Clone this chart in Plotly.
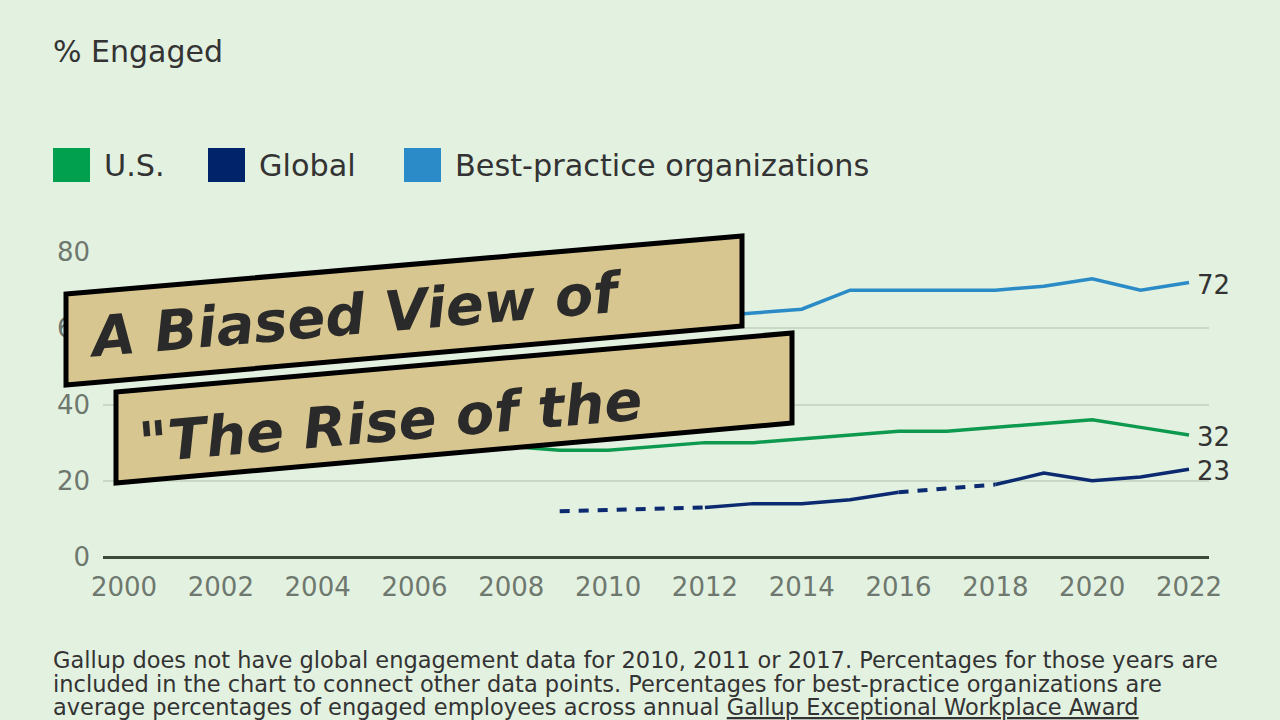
import plotly.graph_objects as go

# ---------------- data ----------------
years = list(range(2000, 2023))
us = [26, 26, 30, 28, 29, 28, 29, 30, 29, 28, 28, 29, 30, 30, 31, 32, 33, 33, 34, 35, 36, 34, 32]
global_years = list(range(2009, 2023))
global_vals = [12, 12.4, 12.7, 13, 14, 14, 15, 17, 18, 19, 22, 20, 21, 23]
global_missing = [2010, 2011, 2017]
best_years = list(range(2009, 2023))
best_vals = [60, 62, 63, 63, 64, 65, 70, 70, 70, 70, 71, 73, 70, 72]

x_ticks = list(range(2000, 2023, 2))
y_ticks = [0, 20, 40, 60, 80]

series_names = ["U.S.", "Global", "Best-practice organizations"]
series_colors = ["#0E9A4E", "#0B2A6F", "#2B8BC6"]
legend_square_colors = ["#00A04F", "#002369", "#2A8BC8"]

title_text = "% Engaged"
banner_lines = ["A Biased View of", "\"The Rise of the"]
footnote_lines = [
    "Gallup does not have global engagement data for 2010, 2011 or 2017. Percentages for those years are",
    "included in the chart to connect other data points. Percentages for best-practice organizations are",
    "average percentages of engaged employees across annual <u>Gallup Exceptional Workplace Award</u>",
]

# ---------------- layout geometry ----------------
W, H = 1280, 720
L, R, T, B = 103, 71, 252, 163
PW, PH = W - L - R, H - T - B
BG = "#E3F1E1"
FONT = "DejaVu Sans"
TEXT = "#333333"
TICK = "#6E786E"


def px(x, y):
    return (x - L) / PW, (H - B - y) / PH


fig = go.Figure()

# Best-practice
fig.add_trace(go.Scatter(x=best_years, y=best_vals, mode="lines",
                         line=dict(color=series_colors[2], width=3.5),
                         name=series_names[2], showlegend=False))
# U.S.
fig.add_trace(go.Scatter(x=years, y=us, mode="lines",
                         line=dict(color=series_colors[0], width=3.5),
                         name=series_names[0], showlegend=False))
# Global solid / dashed
solid = [v if y not in global_missing else None for y, v in zip(global_years, global_vals)]
dashed = [v if (y in global_missing or (y - 1) in global_missing or (y + 1) in global_missing) else None
          for y, v in zip(global_years, global_vals)]
fig.add_trace(go.Scatter(x=global_years, y=dashed, mode="lines", connectgaps=False,
                         line=dict(color=series_colors[1], width=4, dash="10px,9px"),
                         showlegend=False))
fig.add_trace(go.Scatter(x=global_years, y=solid, mode="lines", connectgaps=False,
                         line=dict(color=series_colors[1], width=3.5),
                         name=series_names[1], showlegend=False))

annotations = []
shapes = []

# end labels
for xs, ys in [(best_years, best_vals), (years, us), (global_years, global_vals)]:
    annotations.append(dict(x=xs[-1], y=ys[-1], xref="x", yref="y", text=str(round(ys[-1])),
                            showarrow=False, xanchor="left", yanchor="middle", xshift=6, yshift=-2,
                            font=dict(family=FONT, size=26, color=TEXT)))

# title
tx, ty = px(51, 51)
annotations.append(dict(x=tx, y=ty, xref="paper", yref="paper", text=title_text, showarrow=False,
                        xanchor="left", yanchor="middle", font=dict(family=FONT, size=30, color=TEXT)))

# legend (manual squares)
sq_left = [53, 208, 404]
for i, name in enumerate(series_names):
    x0, y0 = px(sq_left[i], 148)
    x1, y1 = px(sq_left[i] + 37, 182)
    shapes.append(dict(type="rect", xref="paper", yref="paper", x0=x0, x1=x1, y0=y1, y1=y0,
                       fillcolor=legend_square_colors[i], line=dict(width=0)))
    lx, ly = px(sq_left[i] + 49, 165)
    annotations.append(dict(x=lx, y=ly, xref="paper", yref="paper", text=name, showarrow=False,
                            xanchor="left", yanchor="middle",
                            font=dict(family=FONT, size=30.3, color=TEXT)))

# footnote
for i, line in enumerate(footnote_lines):
    fx, fy = px(51, 660 + 23.5 * i)
    annotations.append(dict(x=fx, y=fy, xref="paper", yref="paper", text=line, showarrow=False,
                            xanchor="left", yanchor="middle",
                            font=dict(family=FONT, size=22.5, color=TEXT)))

# banners (decorative overlay)
banner_corners = [
    [(66, 294), (742, 236), (742, 326), (66, 385)],
    [(116, 392), (792, 333), (792, 423), (116, 483)],
]
banner_text_centers = [(356, 314), (390, 421)]
for corners, (cx, cy), text in zip(banner_corners, banner_text_centers, banner_lines):
    pts = [px(a, b) for a, b in corners]
    path = "M " + " L ".join(f"{p[0]:.5f},{p[1]:.5f}" for p in pts) + " Z"
    shapes.append(dict(type="path", xref="paper", yref="paper", path=path, layer="above",
                       fillcolor="#D7C68F", line=dict(color="#000000", width=5)))
    ax, ay = px(cx, cy)
    annotations.append(dict(x=ax, y=ay, xref="paper", yref="paper", text=f"<b><i>{text}</i></b>",
                            showarrow=False, xanchor="center", yanchor="middle", textangle=-4.9,
                            font=dict(family="DejaVu Sans", size=56, color="#2A2A2A")))

fig.update_layout(
    width=W, height=H,
    margin=dict(l=L, r=R, t=T, b=B, pad=0),
    paper_bgcolor=BG, plot_bgcolor=BG,
    showlegend=False,
    shapes=shapes,
    annotations=annotations,
    xaxis=dict(range=[1999.566, 2022.413], tickvals=x_ticks, ticktext=[str(v) for v in x_ticks],
               showgrid=False, zeroline=False, showline=False, ticks="",
               ticklabelstandoff=12,
               tickfont=dict(family=FONT, size=26, color=TICK), fixedrange=True),
    yaxis=dict(range=[0, 80], tickvals=y_ticks, ticktext=[str(v) for v in y_ticks],
               showgrid=True, gridcolor="#C9D9C6", gridwidth=2,
               zeroline=True, zerolinecolor="#3C4A3C", zerolinewidth=2.5,
               showline=False, ticks="", ticklabelstandoff=12,
               tickfont=dict(family=FONT, size=26, color=TICK), fixedrange=True),
)

fig.write_html("out.html", config={"displayModeBar": False},
               post_script="document.body.style.margin='0';document.body.style.overflow='hidden';")
